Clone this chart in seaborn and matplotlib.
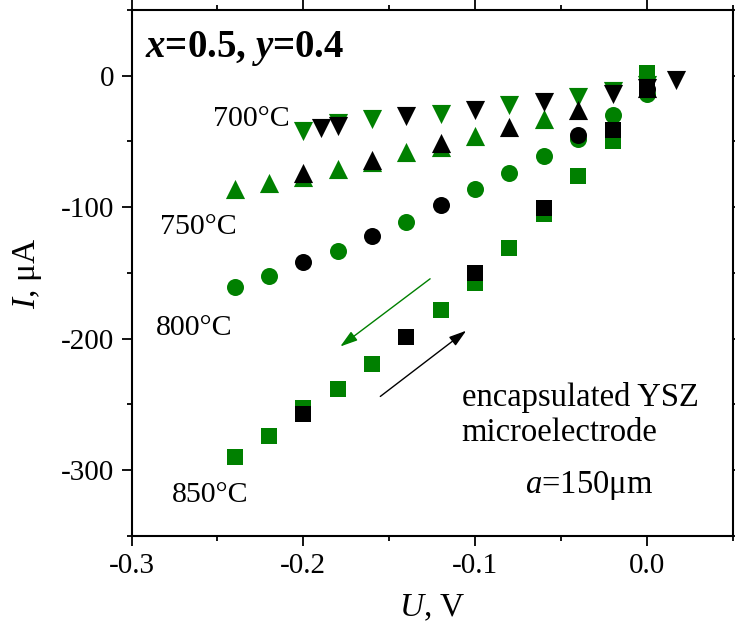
import matplotlib
matplotlib.use("Agg")
import matplotlib.pyplot as plt
from matplotlib.ticker import MultipleLocator, FormatStrFormatter
import seaborn as sns
import pandas as pd

# 850 C, squares
u850_g = [-0.24, -0.22, -0.20, -0.18, -0.16, -0.12, -0.10, -0.08, -0.06, -0.04, -0.02, 0.00]
i850_g = [-290, -274, -253, -238, -219, -178, -158, -131, -105, -76, -50, 2]
u850_b = [-0.20, -0.14, -0.10, -0.06, -0.02, 0.00]
i850_b = [-257, -199, -150, -101, -41, -10]

# 800 C, circles
u800_g = [-0.24, -0.22, -0.18, -0.14, -0.10, -0.08, -0.06, -0.04, -0.02, 0.00]
i800_g = [-161, -152, -133, -111, -86, -74, -61, -48, -30, -14]
u800_b = [-0.20, -0.16, -0.12, -0.04, 0.00]
i800_b = [-142, -122, -98, -45, -10]

# 750 C, up triangles
u750_g = [-0.24, -0.22, -0.20, -0.18, -0.16, -0.14, -0.12, -0.10, -0.06]
i750_g = [-86, -82, -77, -71, -66, -58, -54, -46, -33]
u750_b = [-0.20, -0.16, -0.12, -0.08, -0.04, 0.00]
i750_b = [-74, -64, -51, -39, -26, -9]

# 700 C, down triangles
u700_g = [-0.20, -0.18, -0.16, -0.12, -0.08, -0.04, -0.02, 0.00]
i700_g = [-42, -36, -33, -29, -22, -16, -12, -7]
u700_b = [-0.19, -0.18, -0.14, -0.10, -0.06, -0.02, 0.00, 0.017]
i700_b = [-40, -38, -31, -26, -20, -14, -9, -3]

series = [
    ("850", "s", 120, u850_g, i850_g, u850_b, i850_b),
    ("800", "o", 150, u800_g, i800_g, u800_b, i800_b),
    ("750", "^", 190, u750_g, i750_g, u750_b, i750_b),
    ("700", "v", 190, u700_g, i700_g, u700_b, i700_b),
]

GREEN = "#008000"

sns.set_theme(style="white")
plt.rcParams["font.family"] = ["Liberation Serif", "DejaVu Serif"]
plt.rcParams["mathtext.fontset"] = "custom"
plt.rcParams["mathtext.rm"] = "Liberation Serif"
plt.rcParams["mathtext.it"] = "Liberation Serif:italic"
plt.rcParams["mathtext.bf"] = "Liberation Serif:bold"
plt.rcParams["mathtext.bfit"] = "Liberation Serif:italic:bold"
plt.rcParams["axes.unicode_minus"] = False
plt.rcParams["text.color"] = "black"
plt.rcParams["axes.labelcolor"] = "black"
plt.rcParams["xtick.color"] = "black"
plt.rcParams["ytick.color"] = "black"
plt.rcParams["axes.edgecolor"] = "black"
plt.rcParams["axes.facecolor"] = "white"

fig = plt.figure(figsize=(7.35, 6.23), dpi=100)
ax = fig.add_axes([0.179, 0.140, 0.818, 0.844])

# green sweep first, black sweep drawn over it
for sweep_color, idx in [(GREEN, 3), ("black", 5)]:
    for temp, marker, size, *vals in series:
        u = vals[idx - 3]
        i = vals[idx - 2]
        df = pd.DataFrame({"U": u, "I": i})
        sns.scatterplot(data=df, x="U", y="I", marker=marker, s=size,
                        color=sweep_color, linewidth=0, ax=ax, zorder=3)

ax.set_xlim(-0.3, 0.05)
ax.set_ylim(-350, 50)
ax.xaxis.set_major_locator(MultipleLocator(0.1))
ax.xaxis.set_minor_locator(MultipleLocator(0.05))
ax.xaxis.set_major_formatter(FormatStrFormatter("%.1f"))
ax.yaxis.set_major_locator(MultipleLocator(100))
ax.yaxis.set_minor_locator(MultipleLocator(50))

for s in ax.spines.values():
    s.set_linewidth(1.5)
    s.set_color("black")
ax.tick_params(which="both", width=1.3, colors="black", labelsize=21)
ax.tick_params(which="major", length=7.2)
ax.tick_params(which="minor", length=3.6)
ax.tick_params(axis="x", which="major", pad=5)
ax.tick_params(axis="y", which="major", pad=5)
ax.tick_params(which="both", top=True, right=True, direction="in")
ax.tick_params(axis="x", which="both", bottom=True, direction="out")
ax.tick_params(axis="y", which="both", left=True, direction="out")

ax.set_xlabel("$U$, V", fontsize=24, color="black")
ax.set_ylabel("$I$, μA", fontsize=24, color="black")
ax.xaxis.set_label_coords(0.5, -0.108)
ax.yaxis.set_label_coords(-0.145, 0.5)

ax.text(-0.2922, 20.5, r"$\mathbfit{x}$=0.5, $\mathbfit{y}$=0.4", fontsize=28,
        fontweight="bold", ha="left", va="center")
ax.text(-0.2078, -33, "700°C", fontsize=21.5, ha="right", va="center")
ax.text(-0.2834, -115, "750°C", fontsize=21.5, ha="left", va="center")
ax.text(-0.2858, -192, "800°C", fontsize=21.5, ha="left", va="center")
ax.text(-0.2765, -319, "850°C", fontsize=21.5, ha="left", va="center")
ax.text(-0.1078, -245, "encapsulated YSZ", fontsize=23.5, ha="left", va="center")
ax.text(-0.1078, -272, "microelectrode", fontsize=23.5, ha="left", va="center")
ax.text(-0.0712, -312, "$a$=150μm", fontsize=23.5, ha="left", va="center")

green_arrow = ((-0.1262, -154.5), (-0.1785, -206))
black_arrow = ((-0.1552, -244), (-0.1052, -194))
for (start, end), c in [(green_arrow, GREEN), (black_arrow, "black")]:
    ax.annotate("", xy=end, xytext=start,
                arrowprops=dict(arrowstyle="-|>,head_length=0.7,head_width=0.22",
                                color=c, lw=1.0, mutation_scale=15,
                                shrinkA=0, shrinkB=0))

fig.savefig("out.png", dpi=100)
